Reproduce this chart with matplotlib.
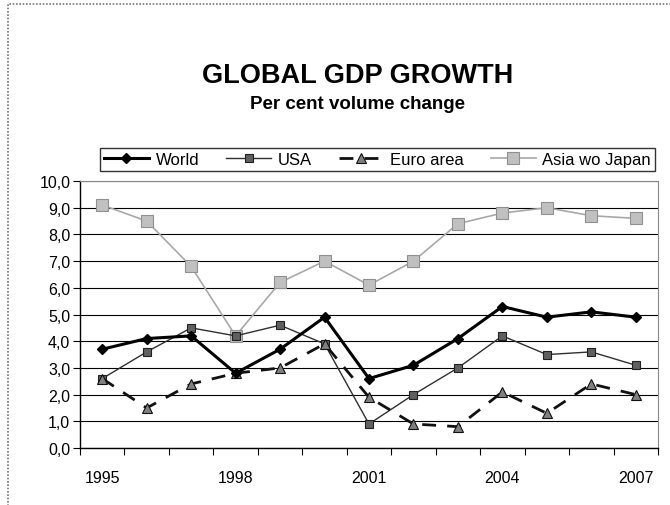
import matplotlib.pyplot as plt
from matplotlib.patches import Rectangle
from matplotlib.ticker import FuncFormatter

plt.rcParams['font.family'] = ['Liberation Sans', 'DejaVu Sans']

years = list(range(1995, 2008))
world = [3.7, 4.1, 4.2, 2.8, 3.7, 4.9, 2.6, 3.1, 4.1, 5.3, 4.9, 5.1, 4.9]
usa = [2.6, 3.6, 4.5, 4.2, 4.6, 3.9, 0.9, 2.0, 3.0, 4.2, 3.5, 3.6, 3.1]
euro = [2.6, 1.5, 2.4, 2.8, 3.0, 3.9, 1.9, 0.9, 0.8, 2.1, 1.3, 2.4, 2.0]
asia = [9.1, 8.5, 6.8, 4.2, 6.2, 7.0, 6.1, 7.0, 8.4, 8.8, 9.0, 8.7, 8.6]
shown_years = [1995, 1998, 2001, 2004, 2007]

fig = plt.figure(figsize=(6.7, 5.06), dpi=100)
ax = fig.add_axes([0.1194, 0.1126, 0.8627, 0.5277])

# categorie-as: punten in het midden van elk vak
x = list(range(len(years)))

ax.plot(x, asia, color='#a8a8a8', lw=1.2, marker='s', ms=8, mfc='#c0c0c0',
        mec='#909090', mew=0.8, label='Asia wo Japan', zorder=3)
ax.plot(x, usa, color='#303030', lw=1.0, marker='s', ms=6, mfc='#606060',
        mec='#202020', mew=0.8, label='USA', zorder=4)
ax.plot(x, euro, color='#111111', lw=2.0, ls=(0, (5, 4)), marker='^', ms=7,
        mfc='#808080', mec='#111111', mew=0.8, label='Euro area', zorder=5)
ax.plot(x, world, color='black', lw=2.2, marker='D', ms=5.5, mfc='black',
        mec='black', label='World', zorder=6)

ax.set_xlim(-0.5, len(years) - 0.5)
ax.set_ylim(0, 10)
ax.set_yticks(range(0, 11))
ax.yaxis.set_major_formatter(FuncFormatter(lambda v, p: f'{v:.1f}'.replace('.', ',')))
ax.grid(axis='y', color='black', lw=0.8)
ax.set_axisbelow(True)

# tick marks op de vakgrenzen, labels alleen voor een paar jaren
ax.set_xticks([i + 0.5 for i in range(-1, len(years))])
ax.set_xticklabels([])
ax.set_xticks([years.index(y) for y in shown_years], minor=True)
ax.set_xticklabels([str(y) for y in shown_years], minor=True)
ax.tick_params(axis='x', which='major', direction='out', length=5, width=0.8)
ax.tick_params(axis='x', which='minor', length=0, pad=16, labelsize=11.5)
ax.tick_params(axis='y', direction='out', length=5, width=0.8, labelsize=11.5, pad=2)

for s in ['top', 'right']:
    ax.spines[s].set_color('#888888')
    ax.spines[s].set_linestyle((0, (1, 1)))
for s in ['left', 'bottom']:
    ax.spines[s].set_color('black')
    ax.spines[s].set_linewidth(1.0)

fig.text(0.534, 0.85, 'GLOBAL GDP GROWTH', ha='center', va='center',
         fontsize=19.5, fontweight='bold')
fig.text(0.534, 0.793, 'Per cent volume change', ha='center', va='center',
         fontsize=13.5, fontweight='bold')

handles, labels = ax.get_legend_handles_labels()
order = [3, 1, 2, 0]
leg = fig.legend([handles[i] for i in order], [labels[i] for i in order],
                 loc='lower left', bbox_to_anchor=(0.149, 0.660, 0.829, 0.053),
                 mode='expand', ncol=4, frameon=True, fancybox=False,
                 edgecolor='black', fontsize=12, handlelength=2.7,
                 handletextpad=0.4, columnspacing=0.6, borderpad=0.25,
                 borderaxespad=0)
leg.get_frame().set_linewidth(1.0)

# gestippelde rand van het grafiekgebied
fig.patches.append(Rectangle((0.012, -0.05), 1.2, 1.04, transform=fig.transFigure,
                             fill=False, edgecolor='#777777', lw=1.2,
                             ls=(0, (1, 1))))

fig.savefig('out.png', dpi=100)
